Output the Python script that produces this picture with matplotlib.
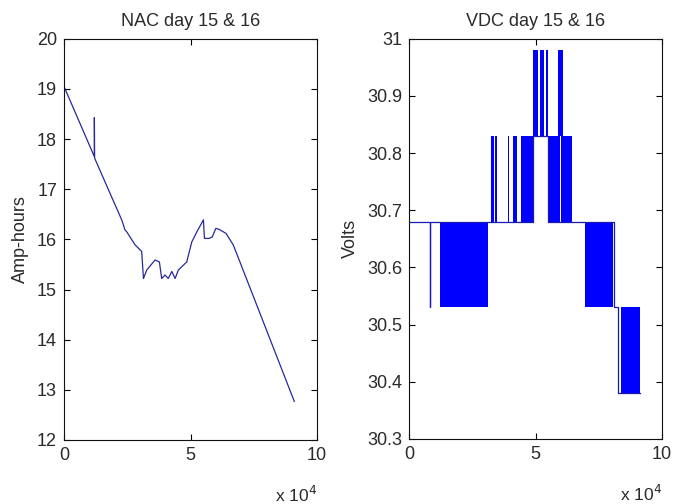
import matplotlib.pyplot as plt
import numpy as np

plt.rcParams['font.family'] = ['Liberation Sans', 'DejaVu Sans']

# NAC trace (time in units of 1e4 s, amp-hours)
nac_t = [0, 1.20, 1.20, 1.21, 2.28, 2.41, 2.48, 2.81, 3.07, 3.14, 3.27, 3.60, 3.77,
         3.86, 3.99, 4.12, 4.26, 4.39, 4.52, 4.85, 5.05, 5.25, 5.51, 5.55, 5.73,
         5.86, 6.00, 6.13, 6.40, 6.69, 9.10]
nac_v = [19.05, 17.65, 18.43, 17.62, 16.39, 16.19, 16.15, 15.89, 15.76, 15.22, 15.39,
         15.59, 15.55, 15.22, 15.29, 15.22, 15.36, 15.22, 15.39, 15.55, 15.95, 16.15,
         16.39, 16.02, 16.02, 16.05, 16.22, 16.20, 16.12, 15.89, 12.77]

# VDC baseline trace (step, held after each point)
vdc_t = [0, 0.84, 0.85, 4.89, 5.51, 8.11, 8.27, 9.13]
vdc_v = [30.68, 30.53, 30.68, 30.83, 30.68, 30.53, 30.38, 30.38]

# VDC dense toggling regions: start, end, low level, high level
blk_start = [1.23, 3.23, 3.40, 3.90, 4.12, 4.41, 4.89, 5.18, 5.40, 5.90, 5.51, 6.00, 6.96, 8.38]
blk_end   = [3.13, 3.34, 3.48, 3.95, 4.26, 4.89, 5.11, 5.35, 5.51, 6.10, 5.97, 6.43, 8.08, 9.13]
blk_lo    = [30.53, 30.68, 30.68, 30.68, 30.68, 30.68, 30.83, 30.83, 30.83, 30.83, 30.68, 30.68, 30.53, 30.38]
blk_hi    = [30.68, 30.83, 30.83, 30.83, 30.83, 30.83, 30.98, 30.98, 30.98, 30.98, 30.83, 30.83, 30.68, 30.53]

fig = plt.figure(figsize=(6.73, 5.04), dpi=100)
ax1 = fig.add_axes([0.0951, 0.127, 0.376, 0.796])
ax2 = fig.add_axes([0.6077, 0.129, 0.376, 0.794])

txt = '#2a2a2a'
fs = 13

ax1.plot(nac_t, nac_v, color='#28289c', lw=0.9)
ax1.set_xlim(0, 10)
ax1.set_ylim(12, 20)
ax1.set_xticks([0, 5, 10])
ax1.set_yticks(range(12, 21))
ax1.set_title('NAC day 15 & 16', fontsize=fs, color=txt, pad=9)
ax1.set_ylabel('Amp-hours', fontsize=fs, color=txt, labelpad=6)

bottoms = np.array(blk_lo)
heights = np.array(blk_hi) - bottoms
widths = np.array(blk_end) - np.array(blk_start)
ax2.bar(blk_start, heights, width=widths, bottom=bottoms, align='edge',
        color='#0000ff', linewidth=0)
ax2.step(vdc_t, vdc_v, where='post', color='#1a1ab0', lw=0.9)
ax2.set_xlim(0, 10)
ax2.set_ylim(30.3, 31)
ax2.set_xticks([0, 5, 10])
ax2.set_yticks(np.round(np.arange(30.3, 31.01, 0.1), 1))
ax2.set_yticklabels(['30.3', '30.4', '30.5', '30.6', '30.7', '30.8', '30.9', '31'])
ax2.set_title('VDC day 15 & 16', fontsize=fs, color=txt, pad=9)
ax2.set_ylabel('Volts', fontsize=fs, color=txt, labelpad=6)

for ax in (ax1, ax2):
    ax.tick_params(direction='in', length=4, width=0.8, top=True, right=True,
                   labelsize=fs, labelcolor=txt, pad=5)
    for s in ax.spines.values():
        s.set_linewidth(0.8)
        s.set_color('#111111')
    ax.text(1.0, -0.112, r'x 10$^{4}$', transform=ax.transAxes, ha='right',
            va='top', fontsize=12.5, color=txt)

fig.savefig('out.png', dpi=100)
